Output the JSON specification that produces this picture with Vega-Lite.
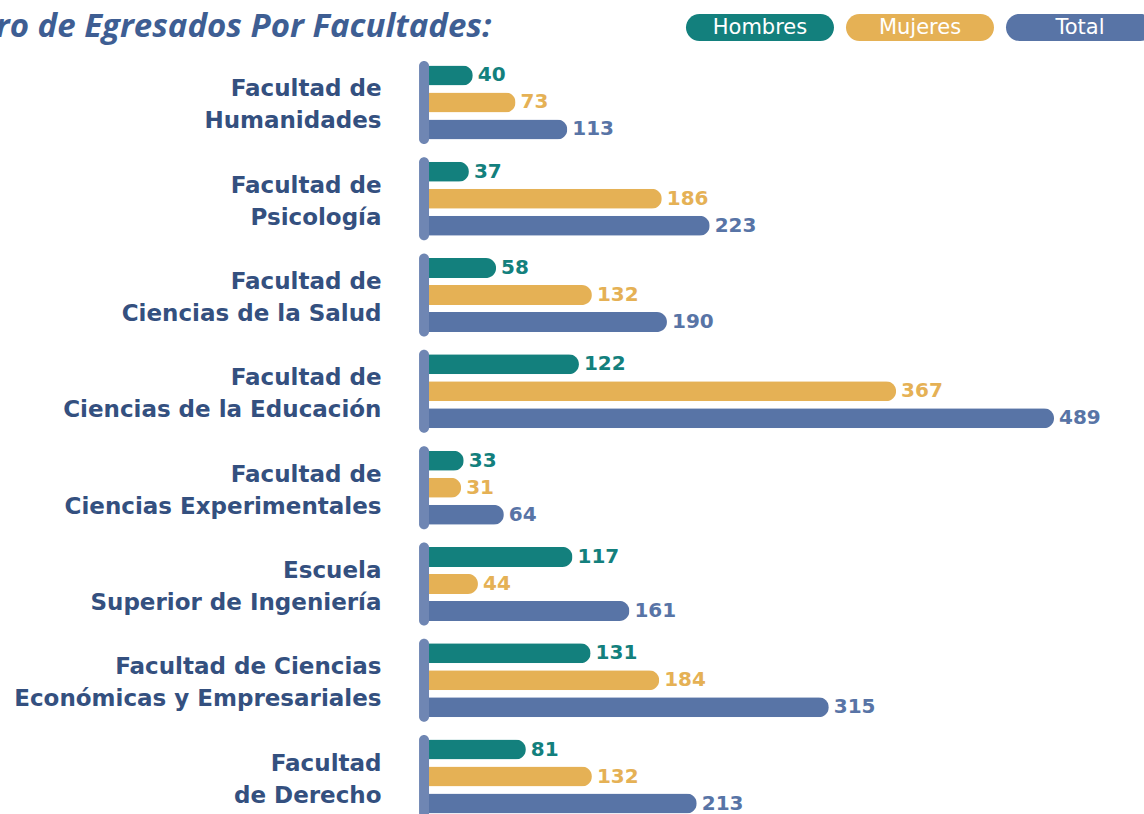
{
  "$schema": "https://vega.github.io/schema/vega-lite/v6.json",
  "autosize": {"type": "pad"},
  "padding": {"left": -98, "top": 11, "right": 0, "bottom": 0},
  "background": "white",
  "title": {
    "text": "Número de Egresados Por Facultades:",
    "anchor": "start",
    "frame": "bounds",
    "font": "Open Sans",
    "fontStyle": "italic",
    "fontWeight": 700,
    "fontSize": 33,
    "color": "#3e5e93",
    "dx": -111,
    "offset": -30
  },
  "datasets": {
    "d": [
      {"facultad": "Facultad de|Humanidades", "serie": "Hombres", "valor": 40},
      {"facultad": "Facultad de|Humanidades", "serie": "Mujeres", "valor": 73},
      {"facultad": "Facultad de|Humanidades", "serie": "Total", "valor": 113},
      {"facultad": "Facultad de|Psicología", "serie": "Hombres", "valor": 37},
      {"facultad": "Facultad de|Psicología", "serie": "Mujeres", "valor": 186},
      {"facultad": "Facultad de|Psicología", "serie": "Total", "valor": 223},
      {"facultad": "Facultad de|Ciencias de la Salud", "serie": "Hombres", "valor": 58},
      {"facultad": "Facultad de|Ciencias de la Salud", "serie": "Mujeres", "valor": 132},
      {"facultad": "Facultad de|Ciencias de la Salud", "serie": "Total", "valor": 190},
      {"facultad": "Facultad de|Ciencias de la Educación", "serie": "Hombres", "valor": 122},
      {"facultad": "Facultad de|Ciencias de la Educación", "serie": "Mujeres", "valor": 367},
      {"facultad": "Facultad de|Ciencias de la Educación", "serie": "Total", "valor": 489},
      {"facultad": "Facultad de|Ciencias Experimentales", "serie": "Hombres", "valor": 33},
      {"facultad": "Facultad de|Ciencias Experimentales", "serie": "Mujeres", "valor": 31},
      {"facultad": "Facultad de|Ciencias Experimentales", "serie": "Total", "valor": 64},
      {"facultad": "Escuela|Superior de Ingeniería", "serie": "Hombres", "valor": 117},
      {"facultad": "Escuela|Superior de Ingeniería", "serie": "Mujeres", "valor": 44},
      {"facultad": "Escuela|Superior de Ingeniería", "serie": "Total", "valor": 161},
      {"facultad": "Facultad de Ciencias|Económicas y Empresariales", "serie": "Hombres", "valor": 131},
      {"facultad": "Facultad de Ciencias|Económicas y Empresariales", "serie": "Mujeres", "valor": 184},
      {"facultad": "Facultad de Ciencias|Económicas y Empresariales", "serie": "Total", "valor": 315},
      {"facultad": "Facultad|de Derecho", "serie": "Hombres", "valor": 81},
      {"facultad": "Facultad|de Derecho", "serie": "Mujeres", "valor": 132},
      {"facultad": "Facultad|de Derecho", "serie": "Total", "valor": 213}
    ],
    "leg": [{"serie": "Hombres"}, {"serie": "Mujeres"}, {"serie": "Total"}]
  },
  "spacing": 20,
  "vconcat": [
    {
      "data": {"name": "leg"},
      "width": 733,
      "height": 27,
      "encoding": {
        "x": {"field": "serie", "type": "nominal", "axis": null,
              "scale": {"domain": ["Hombres", "Mujeres", "Total"], "paddingInner": 0.075, "paddingOuter": 0.828, "align": 1}}
      },
      "layer": [
        {
          "mark": {"type": "bar", "cornerRadius": 13.5},
          "encoding": {
            "color": {"field": "serie", "type": "nominal", "legend": null,
                      "scale": {"domain": ["Hombres", "Mujeres", "Total"], "range": ["#13807d", "#e5b155", "#5874a6"]}}
          }
        },
        {
          "mark": {"type": "text", "color": "white", "font": "DejaVu Sans", "fontSize": 21, "fontWeight": 400, "baseline": "middle"},
          "encoding": {"text": {"field": "serie"}}
        }
      ]
    },
    {
      "data": {"name": "d"},
      "width": 712,
      "height": 757,
      "encoding": {
        "y": {"field": "facultad", "type": "nominal", "sort": null, "title": null,
              "scale": {"paddingInner": 0.138, "paddingOuter": 0},
              "axis": {"domain": false, "ticks": false, "labelPadding": 40, "labelFont": "DejaVu Sans", "labelFontSize": 23,
                       "labelFontWeight": 700, "labelColor": "#34507f", "labelLineHeight": 32, "labelLimit": 600,
                       "labelOffset": -13, "labelExpr": "split(datum.label, '|')"}}
      },
      "layer": [
        {
          "mark": {"type": "bar", "cornerRadiusEnd": 10},
          "encoding": {
            "x": {"field": "valor", "type": "quantitative", "axis": null, "scale": {"domain": [0, 550], "nice": false}},
            "yOffset": {"field": "serie", "type": "nominal", "scale": {"domain": ["Hombres", "Mujeres", "Total"], "paddingInner": 0.26, "paddingOuter": 0.167}},
            "color": {"field": "serie", "type": "nominal", "legend": null,
                      "scale": {"domain": ["Hombres", "Mujeres", "Total"], "range": ["#13807d", "#e5b155", "#5874a6"]}}
          }
        },
        {
          "transform": [{"filter": "datum.serie === 'Total'"}],
          "mark": {"type": "bar", "cornerRadius": 5, "color": "#6f86b3"},
          "encoding": {
            "x": {"datum": -1.5, "type": "quantitative"},
            "x2": {"datum": 6.2}
          }
        },
        {
          "mark": {"type": "text", "align": "left", "baseline": "middle", "dx": 5, "font": "DejaVu Sans", "fontSize": 20, "fontWeight": 700},
          "encoding": {
            "x": {"field": "valor", "type": "quantitative"},
            "yOffset": {"field": "serie", "type": "nominal"},
            "text": {"field": "valor", "type": "quantitative"},
            "color": {"field": "serie", "type": "nominal", "legend": null}
          }
        }
      ]
    }
  ],
  "config": {"view": {"stroke": null}}
}
